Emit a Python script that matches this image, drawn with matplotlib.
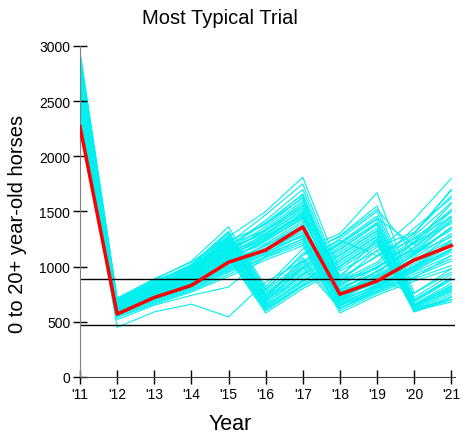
"""
Most Typical Trial: all simulated trials (cyan) plus the most typical one (red)
"""
import matplotlib
matplotlib.use("Agg")
import matplotlib.pyplot as plt

plt.rcParams["font.family"] = ["Liberation Sans", "DejaVu Sans"]

# ── data ──────────────────────────────────────────────────────────
YEARS = list(range(2011, 2022))
YEAR_LABELS = ["'11", "'12", "'13", "'14", "'15", "'16", "'17", "'18", "'19", "'20", "'21"]

TYPICAL = [2270, 570, 720, 830, 1040, 1150, 1360, 750, 870, 1060, 1190]

# trials that are gathered in '18 (same shape as the typical one)
TRIALS_A = [
    [2950, 715, 890, 1040, 1270, 1500, 1810, 960, 1140, 1430, 1800],
    [2900, 690, 850, 1010, 1210, 1470, 1750, 900, 1090, 1300, 1690],
    [2870, 705, 880, 980, 1180, 1420, 1700, 870, 1040, 1350, 1620],
    [2830, 680, 860, 1000, 1230, 1380, 1660, 830, 1000, 1210, 1570],
    [2800, 660, 820, 970, 1160, 1360, 1630, 880, 980, 1260, 1500],
    [2760, 670, 840, 940, 1140, 1320, 1580, 800, 950, 1180, 1460],
    [2740, 650, 800, 950, 1170, 1300, 1550, 780, 1000, 1150, 1420],
    [2710, 640, 810, 920, 1120, 1290, 1520, 820, 930, 1220, 1390],
    [2690, 655, 790, 900, 1100, 1250, 1490, 760, 910, 1100, 1350],
    [2660, 630, 770, 910, 1090, 1270, 1460, 740, 960, 1140, 1330],
    [2640, 620, 780, 880, 1070, 1230, 1440, 790, 880, 1080, 1300],
    [2610, 640, 760, 870, 1080, 1210, 1410, 720, 870, 1120, 1270],
    [2590, 610, 750, 890, 1050, 1190, 1390, 700, 900, 1060, 1240],
    [2570, 600, 740, 860, 1030, 1170, 1360, 730, 850, 1030, 1220],
    [2540, 620, 730, 840, 1010, 1200, 1340, 680, 840, 1000, 1190],
    [2520, 590, 720, 850, 1020, 1150, 1310, 700, 820, 990, 1160],
    [2500, 580, 710, 820, 990, 1130, 1290, 660, 810, 970, 1130],
    [2470, 600, 700, 810, 980, 1160, 1270, 640, 800, 950, 1100],
    [2450, 570, 690, 800, 960, 1110, 1250, 650, 780, 930, 1070],
    [2430, 560, 680, 790, 950, 1090, 1230, 620, 770, 910, 1050],
    [2400, 550, 670, 780, 930, 1080, 1210, 600, 760, 890, 1010],
    [2380, 540, 660, 770, 910, 1060, 1190, 580, 740, 870, 980],
    [2560, 620, 770, 880, 1060, 1240, 1430, 860, 1150, 650, 800],
    [2660, 650, 800, 910, 1110, 1300, 1500, 900, 1250, 700, 880],
    [2910, 700, 870, 1000, 1190, 1390, 1620, 850, 1020, 1280, 1580],
    [2840, 675, 830, 960, 1200, 1330, 1530, 790, 960, 1170, 1440],
    [2770, 660, 830, 960, 1130, 1340, 1600, 840, 990, 1230, 1520],
    [2700, 645, 790, 930, 1130, 1260, 1470, 770, 920, 1130, 1410],
    [2630, 635, 770, 890, 1060, 1250, 1450, 750, 900, 1110, 1360],
    [2580, 615, 760, 860, 1040, 1190, 1370, 710, 870, 1050, 1280],
    [2510, 600, 730, 830, 1000, 1140, 1330, 690, 830, 1010, 1210],
    [2460, 580, 700, 820, 970, 1120, 1280, 670, 810, 980, 1160],
    [2610, 640, 790, 900, 1090, 1280, 1480, 880, 1100, 1300, 1700],
    [2720, 660, 810, 930, 1150, 1330, 1560, 920, 1180, 1310, 1640],
    [2800, 680, 840, 980, 1180, 1400, 1650, 700, 880, 760, 950],
]

# trials gathered in '16 and again in '20
TRIALS_B = [
    [2930, 700, 880, 1050, 1360, 820, 1160, 1300, 1670, 760, 980],
    [2880, 690, 860, 1020, 1320, 800, 1100, 1280, 1550, 720, 930],
    [2820, 680, 850, 1000, 1300, 780, 1050, 1250, 1500, 700, 900],
    [2780, 670, 830, 990, 1280, 760, 1020, 1220, 1460, 680, 880],
    [2730, 660, 820, 970, 1260, 740, 990, 1200, 1430, 660, 850],
    [2690, 650, 810, 960, 1240, 720, 960, 1180, 1400, 650, 830],
    [2650, 640, 800, 940, 1220, 700, 940, 1150, 1380, 640, 810],
    [2610, 630, 790, 930, 1200, 690, 920, 1130, 1350, 630, 790],
    [2570, 620, 780, 910, 1180, 670, 900, 1100, 1320, 620, 770],
    [2530, 610, 770, 900, 1160, 650, 880, 1080, 1300, 610, 750],
    [2490, 600, 750, 880, 1140, 640, 860, 1050, 1270, 600, 730],
    [2450, 590, 740, 870, 1120, 620, 840, 1030, 1250, 590, 720],
    [2410, 580, 730, 860, 1100, 600, 820, 1000, 1220, 620, 700],
    [2360, 570, 720, 840, 1080, 580, 800, 980, 1200, 600, 680],
    [2860, 690, 850, 1010, 1310, 790, 1120, 1270, 1520, 1120, 1350],
    [2760, 665, 840, 980, 1270, 750, 1000, 1210, 1440, 1200, 1500],
    [2640, 640, 800, 950, 1230, 710, 980, 1160, 1390, 690, 900],
    [2540, 620, 780, 910, 1170, 660, 930, 1110, 1330, 660, 820],
    [2470, 600, 760, 880, 1130, 630, 870, 1060, 1280, 640, 780],
    [2390, 580, 720, 850, 1090, 610, 830, 1010, 1230, 590, 700],
    [2700, 655, 820, 960, 1250, 730, 1040, 1240, 1100, 1250, 1450],
]

# odd ones out
TRIALS_C = [
    [2400, 450, 590, 660, 545, 860, 1050, 620, 800, 900, 1100],
    [2380, 520, 650, 740, 815, 1100, 1250, 700, 830, 1000, 1150],
    [2460, 610, 760, 900, 1230, 680, 1000, 620, 780, 960, 1150],
    [2560, 640, 790, 920, 1270, 710, 1080, 650, 820, 1000, 1240],
]

UPPER_LINE = 885
LOWER_LINE = 470

# ── plot ──────────────────────────────────────────────────────────
fig = plt.figure(figsize=(4.61, 4.39), dpi=100)
ax = fig.add_axes([0.1735, 0.139, 0.8135, 0.754])

for trial in TRIALS_A + TRIALS_B + TRIALS_C:
    ax.plot(YEARS, trial, color="#00F0F0", lw=0.8, zorder=1)

ax.axhline(UPPER_LINE, color="black", lw=1, zorder=2)
ax.axhline(LOWER_LINE, color="black", lw=1, zorder=2)
ax.plot(YEARS, TYPICAL, color="red", lw=2.5, zorder=3)

ax.set_xlim(2011, 2021.1)
ax.set_ylim(0, 3000)
ax.set_xticks(YEARS)
ax.set_xticklabels(YEAR_LABELS)
ax.set_yticks(range(0, 3001, 500))

for side in ("top", "right"):
    ax.spines[side].set_visible(False)
ax.spines["left"].set_color("#808080")
ax.spines["bottom"].set_color("#404040")
ax.tick_params(direction="inout", length=10, width=1, labelsize=10, color="black", pad=2)

fig.text(0.477, 0.958, "Most Typical Trial", ha="center", va="center", fontsize=14.5)
fig.text(0.5, 0.032, "Year", ha="center", va="center", fontsize=15.5)
fig.text(0.037, 0.49, "0 to 20+ year-old horses", ha="center", va="center",
         rotation=90, fontsize=14.5)

plt.savefig("out.png", dpi=100)
